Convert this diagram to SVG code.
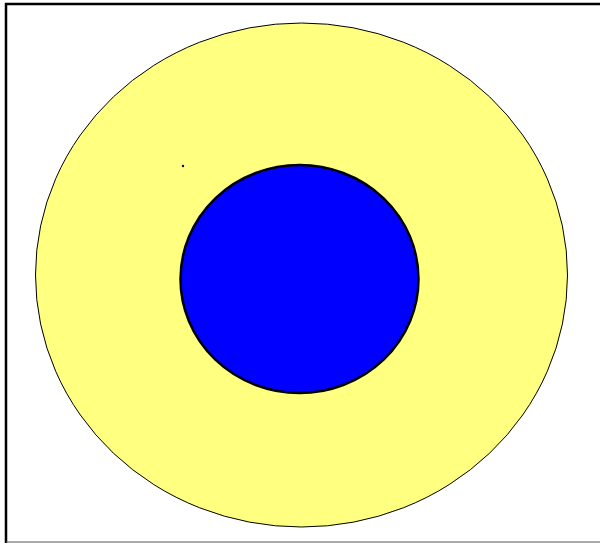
<svg xmlns="http://www.w3.org/2000/svg" width="600" height="545" viewBox="0 0 600 545">
<style>
.frame{fill:#ffffff;stroke:#000000}
.outer{fill:#ffff80;stroke:#000000;stroke-width:1}
.inner{fill:#0000ff;stroke:#000000;stroke-width:2.5}
</style>
<rect width="600" height="545" fill="#ffffff"/>
<path d="M6,543 V4 H600" fill="none" stroke="#000000" stroke-width="2.5"/>
<path d="M6,542 H600" fill="none" stroke="#555555" stroke-width="1"/>
<g id="outer-circle">
<ellipse class="outer" cx="301.5" cy="275" rx="266" ry="252"/>
</g>
<g id="inner-circle">
<ellipse class="inner" cx="299.5" cy="279" rx="119" ry="114"/>
</g>
<g id="dot">
<circle cx="183" cy="166" r="1.2" fill="#000040"/>
</g>
<g id="connectors"></g>
</svg>
